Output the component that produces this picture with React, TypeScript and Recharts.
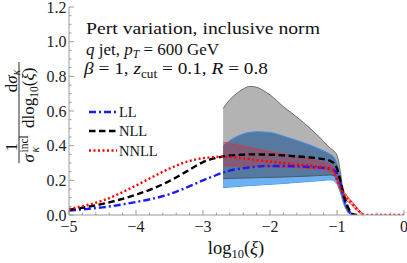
import React from 'react';
import { ComposedChart, Area, Line, XAxis, YAxis } from 'recharts';

// shared x grid (log10 xi)
const xGrid = [
  -5, -4.75, -4.5, -4.25, -4, -3.75, -3.5, -3.25, -3, -2.85,
  -2.7, -2.6, -2.5, -2.4, -2.3, -2.2, -2.1, -2, -1.8, -1.6,
  -1.4, -1.2, -1.1, -1.05, -1, -0.95, -0.9, -0.85, -0.8, -0.75,
  -0.7, -0.65, -0.6, -0.5, -0.4, -0.3, -0.2, -0.1, 0,
];

const llValues = [
  0.025, 0.034, 0.044, 0.058, 0.075, 0.094, 0.12, 0.158, 0.2, 0.223,
  0.245, 0.256, 0.264, 0.27, 0.275, 0.279, 0.282, 0.283, 0.283, 0.281,
  0.277, 0.272, 0.267, 0.26, 0.24, 0.185, 0.105, 0.045, 0.012, 0,
];
const nllValues = [
  0.03, 0.045, 0.064, 0.088, 0.117, 0.152, 0.196, 0.25, 0.305, 0.325,
  0.338, 0.343, 0.346, 0.348, 0.35, 0.35, 0.349, 0.348, 0.344, 0.338,
  0.332, 0.322, 0.312, 0.3, 0.268, 0.2, 0.12, 0.058, 0.02, 0.003,
  0,
];
const nnllValues = [
  0.035, 0.055, 0.083, 0.123, 0.17, 0.22, 0.268, 0.306, 0.328, 0.334,
  0.337, 0.335, 0.332, 0.327, 0.322, 0.317, 0.312, 0.308, 0.3, 0.292,
  0.284, 0.275, 0.268, 0.252, 0.205, 0.16, 0.12, 0.095, 0.077, 0.055,
  0.033, 0.015, 0.002, 0, 0, 0, 0, 0, 0,
];

// uncertainty bands, from -2.7 onwards
const xBand = [
  -2.7, -2.6, -2.5, -2.4, -2.3, -2.2, -2.1, -2, -1.8, -1.6,
  -1.4, -1.2, -1.1, -1.05, -1, -0.95, -0.9, -0.85, -0.8, -0.75,
  -0.7, -0.65, -0.6,
];
const grayHigh = [0.615, 0.665, 0.7, 0.727, 0.742, 0.737, 0.718, 0.693, 0.625, 0.565, 0.5, 0.425, 0.385, 0.37, 0.345, 0.25, 0.11, 0.04, 0.01, 0];
const grayLow = [0.21, 0.211, 0.212, 0.213, 0.214, 0.215, 0.216, 0.217, 0.219, 0.222, 0.225, 0.229, 0.231, 0.227, 0.21, 0.155, 0.08, 0.03, 0.006, 0];
const blueHigh = [0.4, 0.43, 0.452, 0.468, 0.477, 0.48, 0.479, 0.476, 0.455, 0.43, 0.403, 0.37, 0.35, 0.335, 0.295, 0.215, 0.115, 0.04, 0.006, 0];
const blueLow = [0.158, 0.161, 0.164, 0.167, 0.17, 0.172, 0.175, 0.177, 0.182, 0.188, 0.194, 0.2, 0.203, 0.198, 0.178, 0.13, 0.065, 0.022, 0.004, 0];
const redHigh = [0.42, 0.413, 0.405, 0.397, 0.389, 0.381, 0.373, 0.366, 0.352, 0.337, 0.322, 0.303, 0.29, 0.275, 0.24, 0.18, 0.14, 0.11, 0.088, 0.065, 0.042, 0.02, 0.004];
const redLow = [0.285, 0.284, 0.283, 0.282, 0.281, 0.28, 0.279, 0.278, 0.276, 0.272, 0.268, 0.26, 0.25, 0.235, 0.19, 0.14, 0.105, 0.08, 0.065, 0.045, 0.025, 0.01, 0];

const xTicks = Array.from({ length: 26 }, (_, i) => Math.round((-5 + i * 0.2) * 10) / 10);
const yTicks = Array.from({ length: 25 }, (_, i) => (i * 5) / 100);

const FONT = "'Liberation Serif', 'Times New Roman', serif";
const FRAME = '#9a9a9a';

const pick = (arr: number[], b: number) => (b >= 0 && arr[b] != null ? arr[b] : null);

const rows = xGrid.map((x, i) => {
  const b = xBand.indexOf(x);
  const range = (lo: number[], hi: number[]) => {
    const l = pick(lo, b);
    const h = pick(hi, b);
    return l == null || h == null ? [null, null] : [l, h];
  };
  return {
    x,
    ll: llValues[i] ?? null,
    nll: nllValues[i] ?? null,
    nnll: nnllValues[i] ?? null,
    gray: range(grayLow, grayHigh),
    blue: range(blueLow, blueHigh),
    lightBlue: range(blueLow, grayLow),
    red: range(redLow, redHigh),
    grayEdge: pick(grayLow, b),
  };
});

const near = (v: number, step: number) => Math.abs(v / step - Math.round(v / step)) < 1e-6;
const fmtX = (v: number) => (v < 0 ? '\u2212' + Math.abs(v) : String(v));

const FrameTick = (props: any) => {
  const { x, y, payload, side } = props;
  const v = payload.value;
  const horizontal = side === 'bottom' || side === 'top';
  const major = horizontal ? near(v, 1) : near(v, 0.2);
  const len = major ? 5 : 2.5;
  if (side === 'bottom') {
    return (
      <g>
        <line x1={x} x2={x} y1={y} y2={y - len} stroke={FRAME} />
        {major && (
          <text x={x} y={y + 16.5} textAnchor="middle" fontFamily={FONT} fontSize={16} fill="#222">
            {fmtX(v)}
          </text>
        )}
      </g>
    );
  }
  if (side === 'top') return <line x1={x} x2={x} y1={y} y2={y + len} stroke={FRAME} />;
  if (side === 'left') {
    return (
      <g>
        <line x1={x} x2={x + len} y1={y} y2={y} stroke={FRAME} />
        {major && (
          <text x={x - 2.5} y={y + 5.5} textAnchor="end" fontFamily={FONT} fontSize={16} fill="#222">
            {v.toFixed(1)}
          </text>
        )}
      </g>
    );
  }
  return <line x1={x} x2={x - len} y1={y} y2={y} stroke={FRAME} />;
};

const Overlay = () => (
  <svg width={407} height={263} style={{ position: 'absolute', left: 0, top: 0, pointerEvents: 'none' }}>
    <g fontFamily={FONT} fill="#111">
      <text x={86} y={34} fontSize={17.5} textLength={234} lengthAdjust="spacingAndGlyphs">
        Pert variation, inclusive norm
      </text>
      <text x={86} y={54.5} fontSize={17.5} textLength={133} lengthAdjust="spacingAndGlyphs">
        <tspan fontStyle="italic">q</tspan> jet, <tspan fontStyle="italic">p</tspan>
        <tspan fontStyle="italic" fontSize={12} dy={3.5}>T</tspan>
        <tspan dy={-3.5}> = 600 GeV</tspan>
      </text>
      <text x={84} y={74} fontSize={17.5} textLength={184} lengthAdjust="spacingAndGlyphs">
        <tspan fontStyle="italic">β</tspan> =  1,  <tspan fontStyle="italic">z</tspan>
        <tspan fontSize={12} dy={3.5}>cut</tspan>
        <tspan dy={-3.5}> = 0.1,  </tspan>
        <tspan fontStyle="italic">R</tspan> = 0.8
      </text>

      {/* legend */}
      <line x1={89} x2={117} y1={112} y2={112} stroke="#1a1aff" strokeWidth={2.4} strokeDasharray="7 3 2 3" />
      <text x={119} y={117} fontSize={14.5}>LL</text>
      <line x1={89} x2={117} y1={131} y2={131} stroke="#000" strokeWidth={2.4} strokeDasharray="6.5 3.5" />
      <text x={119} y={136} fontSize={14.5}>NLL</text>
      <line x1={89} x2={117} y1={150.5} y2={150.5} stroke="#ff0000" strokeWidth={2.4} strokeDasharray="2 2.5" />
      <text x={119} y={155.5} fontSize={14.5}>NNLL</text>

      {/* x label */}
      <text x={236} y={254} fontSize={18.5} textAnchor="middle">
        log<tspan fontSize={12.5} dy={4}>10</tspan>
        <tspan dy={-4}>(</tspan>
        <tspan fontStyle="italic">ξ</tspan>)
      </text>

      {/* y label */}
      <g transform="translate(19,163) rotate(-90)" fontSize={17}>
        <text x={16} y={-2.5} textAnchor="middle">1</text>
        <text x={82} y={-2.5} textAnchor="middle">
          d<tspan fontStyle="italic">σ</tspan>
          <tspan fontStyle="italic" fontSize={11.5} dy={3}>κ</tspan>
        </text>
        <line x1={0} x2={101} y1={0} y2={0} stroke="#111" strokeWidth={0.9} />
        <text x={0.5} y={14.5} fontStyle="italic">σ</text>
        <text x={10.5} y={8.5} fontSize={11.5}>incl</text>
        <text x={10.5} y={19.5} fontSize={11.5} fontStyle="italic">κ</text>
        <text x={35} y={14.5}>
          dlog<tspan fontSize={11.5} dy={4}>10</tspan>
          <tspan dy={-4}>(</tspan>
          <tspan fontStyle="italic">ξ</tspan>)
        </text>
      </g>
    </g>
  </svg>
);

export default function App() {
  return (
    <div style={{ position: 'absolute', left: 0, top: 0, width: 407, height: 263, background: '#fff' }}>
      <ComposedChart width={407} height={263} data={rows} margin={{ top: 7, right: 3, bottom: 0, left: 0 }}>
        <XAxis
          dataKey="x"
          type="number"
          domain={[-5, 0]}
          allowDataOverflow
          ticks={xTicks}
          interval={0}
          height={48}
          tickSize={0}
          tickMargin={0}
          tickLine={false}
          axisLine={{ stroke: FRAME }}
          tick={(p: any) => <FrameTick {...p} side="bottom" />}
        />
        <XAxis
          xAxisId="top"
          orientation="top"
          type="number"
          domain={[-5, 0]}
          allowDataOverflow
          ticks={xTicks}
          interval={0}
          height={0}
          tickSize={0}
          tickMargin={0}
          tickLine={false}
          axisLine={{ stroke: FRAME }}
          tick={(p: any) => <FrameTick {...p} side="top" />}
        />
        <YAxis
          type="number"
          domain={[0, 1.2]}
          allowDataOverflow
          ticks={yTicks}
          interval={0}
          width={69}
          tickSize={0}
          tickMargin={0}
          tickLine={false}
          axisLine={{ stroke: FRAME }}
          tick={(p: any) => <FrameTick {...p} side="left" />}
        />
        <YAxis
          yAxisId="right"
          orientation="right"
          type="number"
          domain={[0, 1.2]}
          allowDataOverflow
          ticks={yTicks}
          interval={0}
          width={0}
          tickSize={0}
          tickMargin={0}
          tickLine={false}
          axisLine={{ stroke: FRAME }}
          tick={(p: any) => <FrameTick {...p} side="right" />}
        />

        <Area dataKey="gray" type="monotone" fill="#b3b3b3" fillOpacity={1} stroke="#6a6a6a" strokeWidth={1} dot={false} activeDot={false} isAnimationActive={false} />
        <Area dataKey="blue" type="monotone" fill="#57799f" fillOpacity={1} stroke="#3d8fe8" strokeWidth={1} dot={false} activeDot={false} isAnimationActive={false} />
        <Area dataKey="lightBlue" type="monotone" fill="#6cb2f2" fillOpacity={1} stroke="none" dot={false} activeDot={false} isAnimationActive={false} />
        <Area dataKey="red" type="monotone" fill="#ff0000" fillOpacity={0.24} stroke="#e83030" strokeOpacity={0.8} strokeWidth={1} dot={false} activeDot={false} isAnimationActive={false} />

        <Line dataKey="grayEdge" type="monotone" stroke="#4a5868" strokeWidth={1} dot={false} activeDot={false} isAnimationActive={false} />
        <Line dataKey="ll" type="monotone" stroke="#1a1aff" strokeWidth={2.4} strokeDasharray="7 3 2 3" dot={false} activeDot={false} isAnimationActive={false} />
        <Line dataKey="nll" type="monotone" stroke="#000" strokeWidth={2.4} strokeDasharray="6.5 3.5" dot={false} activeDot={false} isAnimationActive={false} />
        <Line dataKey="nnll" type="monotone" stroke="#ff0000" strokeWidth={2.4} strokeDasharray="2 2.5" dot={false} activeDot={false} isAnimationActive={false} />
      </ComposedChart>
      <Overlay />
    </div>
  );
}
